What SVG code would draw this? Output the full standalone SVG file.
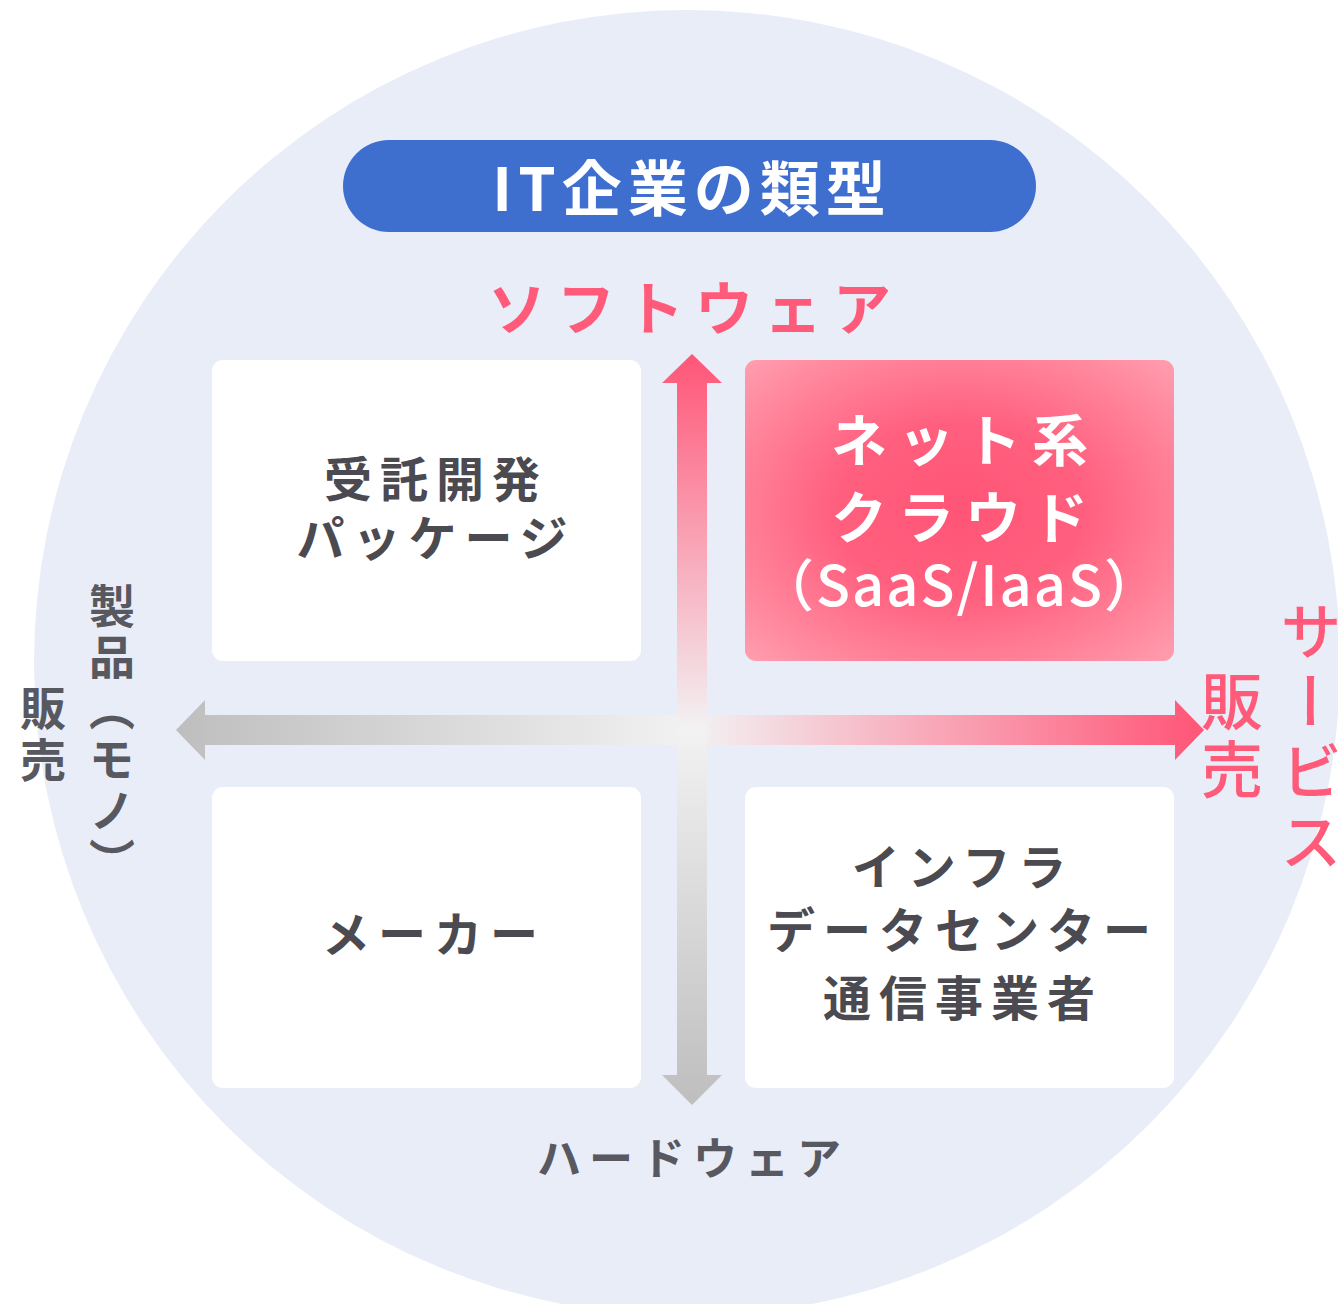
<svg xmlns="http://www.w3.org/2000/svg" width="1338" height="1304" viewBox="0 0 1338 1304">
  <style>
    text { font-family: "Noto Sans CJK JP", "Noto Sans", sans-serif; }
    .box { font-size: 48px; font-weight: 700; fill: #4A4A50; letter-spacing: 8px; text-anchor: middle; }
    .boxw { font-size: 56px; font-weight: 700; fill: #FFFFFF; text-anchor: middle; }
    .pink { fill: #FF5A79; font-weight: 500; }
    .gray { fill: #585860; font-weight: 700; }
    .vert { writing-mode: vertical-rl; }
  </style>
  <defs>
    <linearGradient id="gv" gradientUnits="userSpaceOnUse" x1="0" y1="354" x2="0" y2="1105">
      <stop offset="0" stop-color="#FF5577"/>
      <stop offset="0.5" stop-color="#F2F2F3"/>
      <stop offset="1" stop-color="#BEBEBE"/>
    </linearGradient>
    <linearGradient id="gh" gradientUnits="userSpaceOnUse" x1="176" y1="0" x2="1204" y2="0">
      <stop offset="0" stop-color="#BEBEBE"/>
      <stop offset="0.502" stop-color="#F2F2F3"/>
      <stop offset="1" stop-color="#FF5577"/>
    </linearGradient>
    <radialGradient id="gp" cx="0.5" cy="0.5" r="0.72">
      <stop offset="0" stop-color="#FF5577"/>
      <stop offset="0.4" stop-color="#FF5F7E"/>
      <stop offset="1" stop-color="#FFA0B1"/>
    </radialGradient>
  </defs>

  <rect width="1338" height="1304" fill="#FFFFFF"/>
  <circle id="bg-circle" cx="687" cy="663" r="653" fill="#E9EDF8"/>

  <g id="title">
    <rect x="343" y="140" width="693" height="92" rx="46" fill="#3E6FCF"/>
    <text x="692" y="211" font-size="60" font-weight="700" fill="#FFFFFF" text-anchor="middle" letter-spacing="6">IT企業の類型</text>
  </g>

  <g id="label-software">
    <text class="pink" x="695" y="330" font-size="58" font-weight="600" text-anchor="middle" letter-spacing="11" style="font-weight:600">ソフトウェア</text>
  </g>

  <g id="node-jutaku">
    <rect x="212" y="360" width="429" height="301" rx="11" fill="#FFFFFF"/>
    <text class="box" x="436" y="497">受託開発</text>
    <text class="box" x="436" y="556">パッケージ</text>
  </g>

  <g id="node-net">
    <rect x="745" y="360" width="429" height="301" rx="11" fill="url(#gp)"/>
    <text class="boxw" x="965" y="461" letter-spacing="11">ネット系</text>
    <text class="boxw" x="965" y="538" letter-spacing="11">クラウド</text>
    <text class="boxw" x="960" y="606" letter-spacing="2" style="font-weight:500">（SaaS/IaaS）</text>
  </g>

  <g id="node-maker">
    <rect x="212" y="787" width="429" height="301" rx="11" fill="#FFFFFF"/>
    <text class="box" x="434" y="952">メーカー</text>
  </g>

  <g id="node-infra">
    <rect x="745" y="787" width="429" height="301" rx="11" fill="#FFFFFF"/>
    <text class="box" x="963" y="885">インフラ</text>
    <text class="box" x="963" y="948">データセンター</text>
    <text class="box" x="963" y="1016">通信事業者</text>
  </g>

  <g id="connectors">
    <polygon points="176,730 205,700 205,715 1175,715 1175,700 1204,730 1175,760 1175,745 205,745 205,760" fill="url(#gh)"/>
    <polygon points="692,354 722,383 707,383 707,1075 722,1075 692,1105 662,1075 677,1075 677,383 662,383" fill="url(#gv)"/>
  </g>

  <g id="label-hardware">
    <text class="gray" x="693" y="1175" font-size="44" text-anchor="middle" letter-spacing="8" style="font-weight:600">ハードウェア</text>
  </g>

  <g id="label-product">
    <text class="gray vert" x="112" y="583" font-size="46" letter-spacing="5">製品（モノ）</text>
    <text class="gray vert" x="43" y="685" font-size="46" letter-spacing="6">販売</text>
  </g>

  <g id="label-service">
    <text class="pink vert" x="1311" y="600" font-size="62" letter-spacing="8">サービス</text>
    <text class="pink vert" x="1232" y="670" font-size="62" letter-spacing="6">販売</text>
  </g>
</svg>
